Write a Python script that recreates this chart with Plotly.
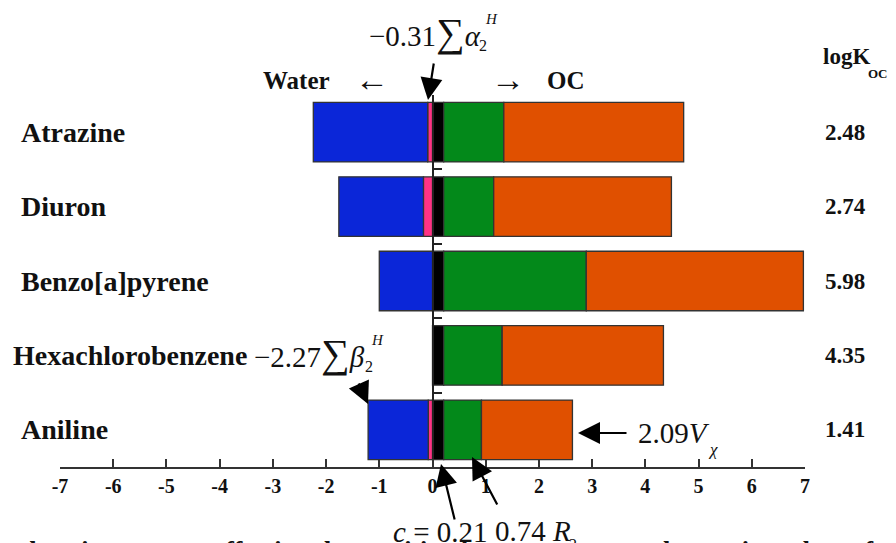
import plotly.graph_objects as go

# ---------------- data ----------------
compounds = ["Atrazine", "Diuron", "Benzo[a]pyrene", "Hexachlorobenzene", "Aniline"]
c_term = [0.21, 0.21, 0.21, 0.21, 0.21]          # c = 0.21
alpha_term = [-0.09, -0.17, 0.0, 0.0, -0.08]     # -0.31 Σα2H
r2_term = [1.13, 0.94, 2.68, 1.10, 0.71]         # 0.74 R2
beta_term = [-2.15, -1.59, -1.00, 0.0, -1.13]    # -2.27 Σβ2H
vx_term = [3.38, 3.34, 4.08, 3.03, 1.71]         # 2.09 Vx
logkoc = ["2.48", "2.74", "5.98", "4.35", "1.41"]
x_ticks = [-7, -6, -5, -4, -3, -2, -1, 0, 1, 2, 3, 4, 5, 6, 7]

# ---------------- layout geometry (screen pixels) ----------------
OFF = 8                      # page body margin
SW, SH = 896, 543
PL, PR, PT, PB = 60, 805, 95, 467   # plot area in screen pixels
PW, PH = PR - PL, PB - PT
FW, FH = SW - OFF, SH - OFF
SERIF = "Liberation Serif"


def px(xs):
    return (xs - PL) / PW


def py(ys):
    return (PB - ys) / PH


fig = go.Figure()
series = [
    ("c", c_term, "#000000"),
    ("alpha", alpha_term, "#ff3385"),
    ("R2", r2_term, "#03891a"),
    ("beta", beta_term, "#0b26d8"),
    ("Vx", vx_term, "#e05000"),
]
for name, vals, col in series:
    fig.add_trace(go.Bar(
        y=compounds, x=vals, orientation="h", name=name,
        marker=dict(color=col, line=dict(color="#333333", width=1.3)),
        width=0.8, showlegend=False, hoverinfo="skip",
    ))

ann = []
# clipped caption at bottom edge (drawn first so the labels sit on top)
ann.append(dict(x=px(448), y=py(550), xref="paper", yref="paper",
                text="<b>descriptor terms affecting the partition between water and organic carbon of</b>",
                xanchor="center", yanchor="middle", showarrow=False,
                font=dict(family=SERIF, size=26, color="#111")))
# compound names
for nm in compounds:
    xl = 11 if nm == "Hexachlorobenzene" else 19
    ann.append(dict(x=px(xl), xref="paper", y=nm, yref="y", text="<b>%s</b>" % nm,
                    xanchor="left", yanchor="middle", showarrow=False,
                    font=dict(family=SERIF, size=28, color="#111")))
# logKoc values
for nm, v in zip(compounds, logkoc):
    ann.append(dict(x=px(823), xref="paper", y=nm, yref="y", text="<b>%s</b>" % v,
                    xanchor="left", yanchor="middle", showarrow=False,
                    font=dict(family=SERIF, size=23, color="#111")))


def txt(x, y, text, size, anchor="left", bold=False, italic=False):
    if italic:
        text = "<i>%s</i>" % text
    if bold:
        text = "<b>%s</b>" % text
    ann.append(dict(x=px(x), y=py(y), xref="paper", yref="paper", text=text,
                    xanchor=anchor, yanchor="middle", showarrow=False,
                    font=dict(family=SERIF, size=size, color="#111")))


def arrow(hx, hy, tx, ty):
    ann.append(dict(x=px(hx), y=py(hy), xref="paper", yref="paper", text="",
                    showarrow=True, ax=tx - hx, ay=ty - hy, axref="pixel", ayref="pixel",
                    arrowhead=2, arrowsize=2.0, arrowwidth=2.2, arrowcolor="#000"))


# header
txt(821, 56, "logK", 23, bold=True)
txt(866, 73, "OC", 13, bold=True)
txt(261, 80, "Water", 25, bold=True)
txt(372, 79, "\u2190", 34, anchor="center")
txt(508, 79, "\u2192", 34, anchor="center")
txt(545, 80, "OC", 25, bold=True)

SUM = "<span style='font-size:40px'>\u2211</span>"
# alpha
txt(367, 33, "\u22120.31" + SUM + "<i>\u03b1</i>", 29)
txt(483, 19, "H", 15, italic=True)
txt(477, 46, "2", 16)
arrow(428, 100, 434, 62)
# beta
txt(252, 353, "\u22122.27" + SUM + "<i>\u03b2</i>", 29)
txt(369, 340, "H", 15, italic=True)
txt(363, 366, "2", 16)
arrow(368, 404, 358, 382)
# Vx
arrow(578, 433, 628, 433)
txt(636, 433, "2.09<i>V</i>", 29)
txt(706, 449, "\u03c7", 17, italic=True)
# c and R2
arrow(441, 464, 455, 521)
arrow(472, 457, 498, 506)
txt(391, 532, "<i>c</i> = 0.21", 29)
txt(493, 531, "0.74<i> R</i>", 29)
txt(567, 544, "2", 16)

fig.update_layout(
    width=FW, height=FH,
    margin=dict(l=PL - OFF, r=FW - (PR - OFF), t=PT - OFF, b=FH - (PB - OFF)),
    paper_bgcolor="white", plot_bgcolor="white",
    barmode="relative", annotations=ann,
    xaxis=dict(range=[-7, 7], tickvals=x_ticks,
               ticktext=["<b>%d</b>" % v for v in x_ticks],
               tickfont=dict(family=SERIF, size=20, color="#111"),
               showline=True, linecolor="#333", linewidth=1.5,
               ticks="inside", ticklen=8, tickwidth=1.5, tickcolor="#333",
               showgrid=False, zeroline=False, fixedrange=True),
    yaxis=dict(type="category", categoryorder="array", categoryarray=compounds[::-1],
               range=[-0.5, 4.5], anchor="free", position=0.5,
               showline=True, linecolor="#222", linewidth=1.5,
               ticks="inside", tickson="boundaries", ticklen=9, tickwidth=1.5, tickcolor="#222",
               showticklabels=False, showgrid=False, zeroline=False, fixedrange=True),
)

fig.write_html("out.html")
